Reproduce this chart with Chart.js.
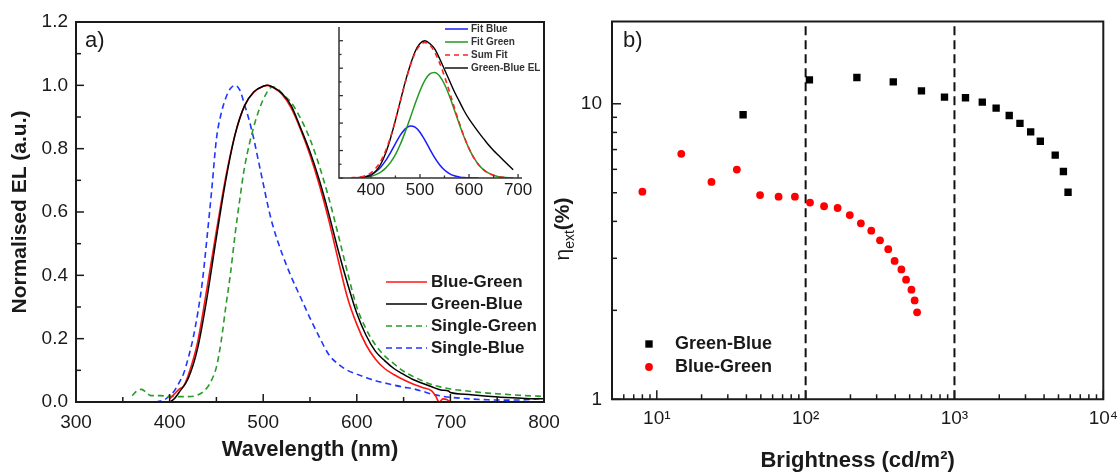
<!DOCTYPE html>
<html>
<head>
<meta charset="utf-8">
<script src="https://cdn.jsdelivr.net/npm/chart.js@4.4.0/dist/chart.umd.min.js"></script>
<style>
  body { margin: 0; background: #fff; }
  #wrap { position: relative; width: 1120px; height: 472px; overflow: hidden; }
  canvas { position: absolute; top: 0; }
</style>
</head>
<body>
<div id="wrap">
  <canvas id="elChart" width="580" height="472" style="left:0"></canvas>
  <canvas id="insetChart" width="240" height="190" style="left:310px;top:15px"></canvas>
  <canvas id="eqeChart" width="590" height="472" style="left:550px"></canvas>
</div>
<script>
// (a) normalised EL spectra
var blueGreenNm = [400,405,410,415,420,430,440,450,460,470,480,490,500,505,510,520,530,540,550,560,570,580,590,600,610,620,630,640,650,660,670,680,684,688,692,696,700];
var blueGreenEL = [0.01,0.025,0.04,0.05,0.085,0.19,0.36,0.54,0.71,0.845,0.935,0.978,0.997,1.0,0.994,0.972,0.928,0.86,0.78,0.685,0.575,0.45,0.33,0.245,0.18,0.135,0.105,0.086,0.07,0.057,0.046,0.035,0.02,0.0,0.01,0.008,0.0];

var greenBlueNm = [400,405,410,420,430,440,450,460,470,480,490,500,505,510,520,530,540,550,560,570,580,590,600,610,620,630,640,650,660,670,680,690,698,700,720,740,760,780,800];
var greenBlueEL = [0.0,0.01,0.03,0.075,0.17,0.33,0.52,0.70,0.845,0.935,0.98,0.997,1.0,0.995,0.975,0.935,0.865,0.79,0.70,0.595,0.48,0.375,0.28,0.21,0.16,0.13,0.105,0.087,0.071,0.059,0.048,0.038,0.035,0.03,0.024,0.018,0.014,0.011,0.01];

var singleGreenNm = [360,365,370,375,380,390,400,410,420,430,440,445,450,455,460,465,470,475,480,490,500,510,515,520,530,540,550,560,570,580,590,600,610,620,630,640,650,660,670,680,690,700,720,740,760,780,800];
var singleGreenEL = [0.02,0.035,0.04,0.03,0.02,0.02,0.018,0.017,0.017,0.022,0.045,0.07,0.11,0.19,0.30,0.405,0.53,0.64,0.74,0.87,0.955,0.995,0.99,0.975,0.945,0.895,0.83,0.745,0.645,0.53,0.41,0.30,0.23,0.18,0.145,0.12,0.097,0.081,0.067,0.055,0.047,0.041,0.034,0.028,0.024,0.02,0.018];

var singleBlueNm = [385,390,395,400,405,410,415,420,425,430,435,440,445,450,455,460,465,470,475,480,485,490,495,500,505,510,520,530,540,550,560,570,580,590,600,610,620,630,640,650,660,670,680,690,700,720,740,760,780,790,800];
var singleBlueEL = [0.0,0.003,0.008,0.02,0.035,0.06,0.09,0.14,0.2,0.28,0.38,0.52,0.67,0.83,0.91,0.96,0.99,1.0,0.985,0.94,0.89,0.83,0.76,0.69,0.62,0.56,0.47,0.395,0.33,0.265,0.205,0.15,0.12,0.10,0.088,0.077,0.067,0.06,0.053,0.047,0.042,0.034,0.025,0.019,0.015,0.01,0.007,0.006,0.007,0.009,0.013];

var wavelengthTicks = [300,400,500,600,700,800];
var elTicks = [0,0.2,0.4,0.6,0.8,1.0,1.2];

// inset: Gaussian fit of the Green-Blue spectrum
var insetNm = [360,370,380,390,400,410,420,430,440,450,460,470,480,490,500,510,520,530,540,550,560,570,580,590,600,610,620,630,640,650,660,670,680,690];
var fitBlue = [0.001,0.002,0.005,0.012,0.024,0.046,0.079,0.126,0.185,0.25,0.312,0.358,0.379,0.37,0.333,0.276,0.211,0.148,0.096,0.058,0.032,0.016,0.008,0.003,0.001,0.0,0.0,null,null,null,null,null,null,null];
var fitGreen = [0.001,0.002,0.003,0.007,0.013,0.025,0.043,0.072,0.114,0.171,0.246,0.336,0.436,0.539,0.634,0.711,0.758,0.769,0.743,0.683,0.598,0.498,0.395,0.298,0.214,0.146,0.095,0.059,0.035,0.02,0.01,0.005,0.002,0.001];
var sumFit = [0.002,0.004,0.008,0.019,0.037,0.071,0.122,0.198,0.299,0.421,0.558,0.694,0.815,0.909,0.967,0.987,0.969,0.917,0.839,0.741,0.63,0.514,0.403,0.301,0.215,0.146,0.095,0.059,0.035,0.02,0.01,0.005,0.002,0.001];
var insetEL = [null,null,0.002,0.01,0.02,0.05,0.10,0.18,0.29,0.42,0.56,0.70,0.82,0.92,0.98,1.0,0.98,0.94,0.87,0.79,0.71,0.63,0.56,0.49,0.43,0.38,0.33,0.285,0.24,0.20,0.165,0.13,0.095,0.06];
var insetTicks = [400,500,600,700];
var insetLevels = [0,0.2,0.4,0.6,0.8,1.0];

// (b) external quantum efficiency vs brightness
var gbBright = [38,106,221,388,600,857,1186,1538,1905,2333,2754,3251,3775,4753,5395,5796];
var gbEta = [9.18,12.05,12.27,11.86,11.06,10.53,10.48,10.13,9.67,9.13,8.58,8.03,7.47,6.70,5.90,5.02];
var bgBright = [8.0,14.6,23.3,34.5,49.4,65.8,84.7,107,133,164,198,235,276,316,359,396,440,473,514,540,561];
var bgEta = [5.04,6.77,5.44,5.99,4.91,4.85,4.85,4.63,4.50,4.44,4.20,3.94,3.72,3.45,3.22,2.94,2.75,2.54,2.35,2.16,1.97];
var guideBright = [100,1000];
var brightTicks = [10,100,1000,10000];
var brightLabels = ['10\u00b9','10\u00b2','10\u00b3','10\u2074'];
var etaTicks = [1,10];

var INK = '#1a1a1a';
var SANS = '"Liberation Sans", Arial, Helvetica, sans-serif';

function xy(xs, ys) {
  return xs.map(function (x, i) { return { x: x, y: ys[i] }; });
}

// majors plus a minor tick half way between each pair
function halfSteps(majors) {
  var out = [];
  majors.forEach(function (v, i) {
    out.push({ value: v, lab: true });
    if (i < majors.length - 1) out.push({ value: (v + majors[i + 1]) / 2, lab: false });
  });
  return out;
}

// 1..9 x 10^n inside [lo, hi]; only listed decades get a label
function decadeSteps(majors, lo, hi) {
  var out = [];
  for (var d = Math.floor(Math.log10(lo)); d <= Math.ceil(Math.log10(hi)); d++) {
    for (var m = 1; m <= 9; m++) {
      var v = m * Math.pow(10, d);
      if (v >= lo && v <= hi) out.push({ value: v, lab: m === 1 && majors.indexOf(v) >= 0 });
    }
  }
  return out;
}

// inward ticks, axis frame, panel tag, legend and subscripted y title
var decor = {
  id: 'decor',
  afterDraw: function (chart, args, o) {
    var ctx = chart.ctx, a = chart.chartArea;
    ctx.save();
    ctx.strokeStyle = o.ink;
    ctx.fillStyle = o.ink;
    ctx.lineWidth = o.tickWidth;
    ['x', 'y'].forEach(function (id) {
      var s = chart.scales[id];
      s.ticks.forEach(function (t) {
        var p = s.getPixelForValue(t.value);
        var len = t.lab ? o.major : o.minor;
        ctx.beginPath();
        if (id === 'x') { ctx.moveTo(p, a.bottom); ctx.lineTo(p, a.bottom - len); }
        else { ctx.moveTo(a.left, p); ctx.lineTo(a.left + len, p); }
        ctx.stroke();
      });
    });
    ctx.lineWidth = o.frameWidth;
    ctx.beginPath();
    if (o.box) {
      ctx.rect(a.left, a.top, a.right - a.left, a.bottom - a.top);
    } else {
      ctx.moveTo(a.left, a.top);
      ctx.lineTo(a.left, a.bottom);
      ctx.lineTo(a.right, a.bottom);
    }
    ctx.stroke();

    if (o.tag) {
      ctx.font = o.tag.font;
      ctx.textBaseline = 'middle';
      ctx.textAlign = 'left';
      ctx.fillText(o.tag.text, o.tag.x, o.tag.y);
    }

    if (o.legend) {
      var L = o.legend;
      ctx.font = L.font;
      ctx.textBaseline = 'middle';
      ctx.textAlign = 'left';
      L.items.forEach(function (idx, i) {
        var ds = chart.data.datasets[idx];
        var y = L.y + i * L.rowH;
        if (ds.showLine === false) {
          ctx.fillStyle = ds.backgroundColor;
          var cx = L.x + L.len / 2, r = ds.pointRadius;
          if (ds.pointStyle === 'rect') {
            var side = r * Math.SQRT2;
            ctx.fillRect(cx - side / 2, y - side / 2, side, side);
          } else {
            ctx.beginPath();
            ctx.arc(cx, y, r, 0, Math.PI * 2);
            ctx.fill();
          }
        } else {
          ctx.strokeStyle = ds.borderColor;
          ctx.lineWidth = ds.borderWidth;
          ctx.setLineDash(ds.borderDash || []);
          ctx.beginPath();
          ctx.moveTo(L.x, y);
          ctx.lineTo(L.x + L.len, y);
          ctx.stroke();
          ctx.setLineDash([]);
        }
        ctx.fillStyle = L.color;
        ctx.fillText(ds.label, L.x + L.len + L.gap, y);
      });
    }

    if (o.ytitle) {
      var T = o.ytitle;
      ctx.translate(T.x, T.y);
      ctx.rotate(-Math.PI / 2);
      ctx.textBaseline = 'alphabetic';
      ctx.textAlign = 'left';
      ctx.fillStyle = o.ink;
      var w = 0;
      T.parts.forEach(function (p) { ctx.font = p.font; w += ctx.measureText(p.text).width; });
      var cx = -w / 2;
      T.parts.forEach(function (p) {
        ctx.font = p.font;
        ctx.fillText(p.text, cx, T.base + p.dy);
        cx += ctx.measureText(p.text).width;
      });
    }
    ctx.restore();
  }
};

function tickFont(size) { return { family: SANS, size: size }; }
function titleFont(size) { return { family: SANS, size: size, weight: 'bold', lineHeight: 1 }; }

// ---------- panel a ----------
function spectrum(label, nm, el, color, dash, width, order) {
  return {
    label: label, data: xy(nm, el), borderColor: color, borderWidth: width,
    borderDash: dash, pointRadius: 0, cubicInterpolationMode: 'monotone', order: order, fill: false
  };
}

new Chart(document.getElementById('elChart'), {
  type: 'line',
  data: {
    datasets: [
      spectrum('Blue-Green', blueGreenNm, blueGreenEL, '#ff1414', [], 1.6, 1),
      spectrum('Green-Blue', greenBlueNm, greenBlueEL, '#000000', [], 1.5, 0),
      spectrum('Single-Green', singleGreenNm, singleGreenEL, '#2a9a2a', [6, 4], 1.6, 2),
      spectrum('Single-Blue', singleBlueNm, singleBlueEL, '#1f36ff', [6, 4], 1.6, 3)
    ]
  },
  options: {
    responsive: false, animation: false, events: [],
    layout: { padding: { top: 22, right: 36, left: 0, bottom: 0 } },
    plugins: {
      legend: { display: false }, tooltip: { enabled: false },
      decor: {
        ink: INK, tickWidth: 1.5, major: 8, minor: 5, frameWidth: 2, box: true,
        tag: { text: 'a)', x: 85, y: 41, font: '22px ' + SANS },
        legend: { x: 386, y: 282, rowH: 22, len: 41, gap: 4, font: 'bold 17px ' + SANS, color: INK, items: [0, 1, 2, 3] }
      }
    },
    scales: {
      x: {
        type: 'linear', min: 300, max: 800,
        grid: { display: false, drawTicks: false }, border: { display: false },
        afterBuildTicks: function (s) { s.ticks = halfSteps(wavelengthTicks); },
        afterFit: function (s) { s.height = 70; },
        ticks: { autoSkip: false, maxRotation: 0, padding: 9, color: INK, font: tickFont(19),
          callback: function (v, i, t) { return t[i].lab ? String(v) : ''; } },
        title: { display: true, text: 'Wavelength (nm)', color: INK, font: titleFont(22), padding: { top: 0, bottom: 11 } }
      },
      y: {
        type: 'linear', min: 0, max: 1.2,
        grid: { display: false, drawTicks: false }, border: { display: false },
        afterBuildTicks: function (s) { s.ticks = halfSteps(elTicks); },
        afterFit: function (s) { s.width = 76; },
        ticks: { autoSkip: false, padding: 8, color: INK, font: tickFont(19),
          callback: function (v, i, t) { return t[i].lab ? v.toFixed(1) : ''; } },
        title: { display: true, text: 'Normalised EL (a.u.)', color: INK, font: titleFont(21), padding: { top: 10 } }
      }
    }
  },
  plugins: [decor]
});

// ---------- inset ----------
new Chart(document.getElementById('insetChart'), {
  type: 'line',
  data: {
    datasets: [
      spectrum('Fit Blue', insetNm, fitBlue, '#1a1aff', [], 1.5, 3),
      spectrum('Fit Green', insetNm, fitGreen, '#229922', [], 1.5, 2),
      spectrum('Sum Fit', insetNm, sumFit, '#ff2020', [5, 4], 1.6, 0),
      spectrum('Green-Blue EL', insetNm, insetEL, '#000000', [], 1.4, 1)
    ]
  },
  options: {
    responsive: false, animation: false, events: [],
    layout: { padding: { top: 12, right: 28, left: 0, bottom: 0 } },
    plugins: {
      legend: { display: false }, tooltip: { enabled: false },
      decor: {
        ink: '#333333', tickWidth: 1.3, major: 4, minor: 2.5, frameWidth: 1.5, box: false,
        legend: { x: 135, y: 14, rowH: 13, len: 23, gap: 3, font: 'bold 10px ' + SANS, color: '#333333', items: [0, 1, 2, 3] }
      }
    },
    scales: {
      x: {
        type: 'linear', min: 335, max: 708,
        grid: { display: false, drawTicks: false }, border: { display: false },
        afterBuildTicks: function (s) { s.ticks = halfSteps(insetTicks); },
        afterFit: function (s) { s.height = 27; },
        ticks: { autoSkip: false, maxRotation: 0, padding: 2, color: INK, font: tickFont(17),
          callback: function (v, i, t) { return t[i].lab ? String(v) : ''; } }
      },
      y: {
        type: 'linear', min: 0, max: 1.1,
        grid: { display: false, drawTicks: false }, border: { display: false },
        afterBuildTicks: function (s) { s.ticks = halfSteps(insetLevels); },
        afterFit: function (s) { s.width = 29; },
        ticks: { autoSkip: false, callback: function () { return ''; } }
      }
    }
  },
  plugins: [decor]
});

// ---------- panel b ----------
var ETA_MIN = 1, ETA_MAX = 19;

new Chart(document.getElementById('eqeChart'), {
  type: 'scatter',
  data: {
    datasets: [
      { label: 'Green-Blue', data: xy(gbBright, gbEta), pointStyle: 'rect', pointRadius: 5.2,
        backgroundColor: '#000000', borderWidth: 0, showLine: false },
      { label: 'Blue-Green', data: xy(bgBright, bgEta), pointStyle: 'circle', pointRadius: 3.9,
        backgroundColor: '#ff0000', borderWidth: 0, showLine: false }
    ].concat(guideBright.map(function (b) {
      return { type: 'line', label: '', data: [{ x: b, y: ETA_MIN }, { x: b, y: ETA_MAX }],
        borderColor: '#111111', borderWidth: 2, borderDash: [9, 5], pointRadius: 0, showLine: true };
    }))
  },
  options: {
    responsive: false, animation: false, events: [],
    layout: { padding: { top: 20, right: 36.7, left: 0, bottom: 0 } },
    plugins: {
      legend: { display: false }, tooltip: { enabled: false },
      decor: {
        ink: INK, tickWidth: 1.5, major: 9, minor: 5, frameWidth: 2, box: true,
        tag: { text: 'b)', x: 73, y: 41, font: '22px ' + SANS },
        legend: { x: 93, y: 344, rowH: 23, len: 12, gap: 20, font: 'bold 18px ' + SANS, color: INK, items: [0, 1] },
        ytitle: { x: 12, y: 229, base: 7, parts: [
          { text: '\u03b7', font: '21px ' + SANS, dy: 0 },
          { text: 'ext', font: '14px ' + SANS, dy: 5 },
          { text: '(%)', font: 'bold 21px ' + SANS, dy: 0 }
        ] }
      }
    },
    scales: {
      x: {
        type: 'logarithmic', min: 5, max: 10000,
        grid: { display: false, drawTicks: false }, border: { display: false },
        afterBuildTicks: function (s) { s.ticks = decadeSteps(brightTicks, 5, 10000); },
        afterFit: function (s) { s.height = 72.7; },
        ticks: { autoSkip: false, maxRotation: 0, padding: 8, color: INK, font: tickFont(19),
          callback: function (v, i, t) { return t[i].lab ? brightLabels[brightTicks.indexOf(v)] : ''; } },
        title: { display: true, text: 'Brightness (cd/m\u00b2)', color: INK, font: titleFont(22), padding: { top: 0, bottom: 0 } }
      },
      y: {
        type: 'logarithmic', min: ETA_MIN, max: ETA_MAX,
        grid: { display: false, drawTicks: false }, border: { display: false },
        afterBuildTicks: function (s) { s.ticks = decadeSteps(etaTicks, ETA_MIN, ETA_MAX); },
        afterFit: function (s) { s.width = 62; },
        ticks: { autoSkip: false, padding: 10, color: INK, font: tickFont(19),
          callback: function (v, i, t) { return t[i].lab ? String(v) : ''; } }
      }
    }
  },
  plugins: [decor]
});
</script>
</body>
</html>
